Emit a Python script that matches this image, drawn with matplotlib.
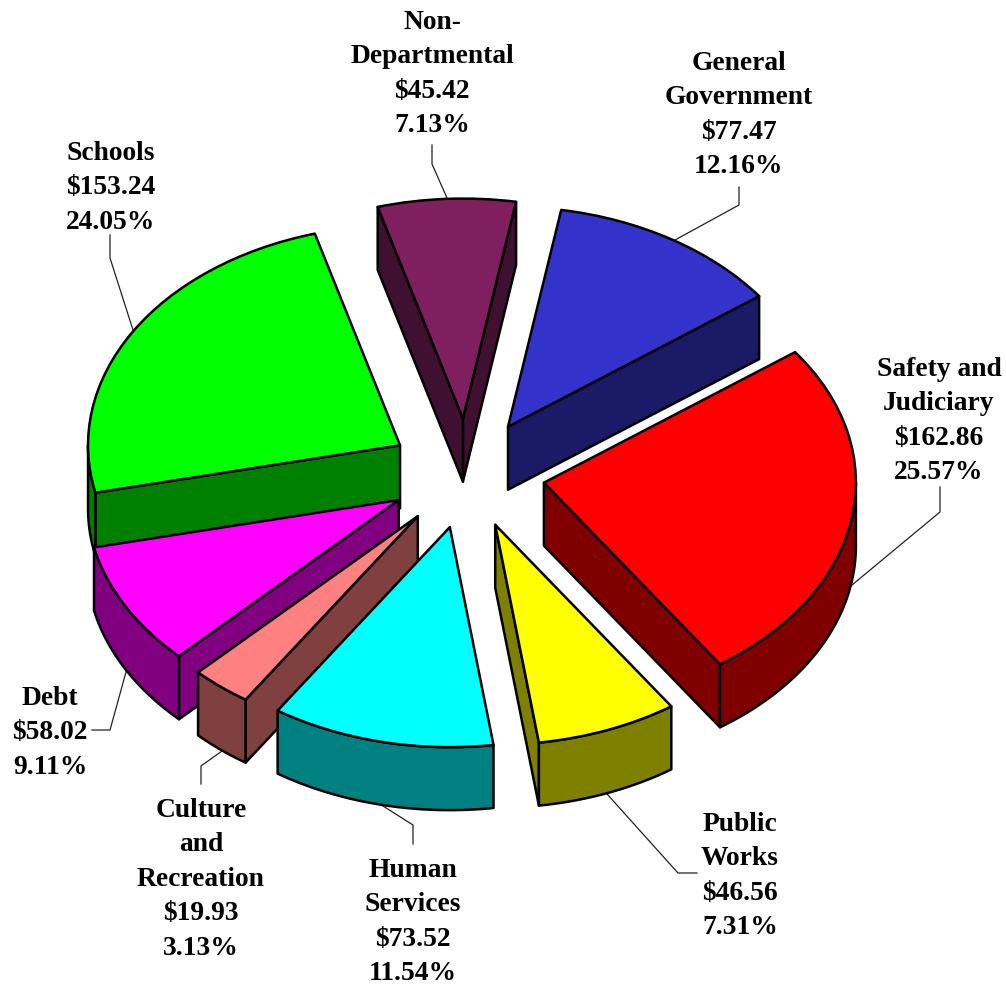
import numpy as np
import matplotlib
matplotlib.use("Agg")
import matplotlib.pyplot as plt
from matplotlib.patches import Wedge
from matplotlib.transforms import Affine2D

# slices in pie order, counter clockwise from the start angle
names = ['General\nGovernment', 'Non-\nDepartmental', 'Schools', 'Debt',
         'Culture\nand\nRecreation', 'Human\nServices', 'Public\nWorks',
         'Safety and\nJudiciary']
values = [77.47, 45.42, 153.24, 58.02, 19.93, 73.52, 46.56, 162.86]
percents = ['12.16%', '7.13%', '24.05%', '9.11%', '3.13%', '11.54%', '7.31%', '25.57%']
top_colors = ['#3333CC', '#7F1F5F', '#00FF00', '#FF00FF', '#FF8080', '#00FFFF', '#FFFF00', '#FF0000']
side_colors = ['#1A1A66', '#401030', '#008000', '#800080', '#804040', '#008080', '#808000', '#800000']

# label layout: centre x, first baseline y, pitch
label_x = [739, 432, 111, 50, 201, 413, 740, 939]
label_y = [70, 29, 160, 705, 817, 877, 831, 376]
pitch = 34.4

# leader lines in pixels
leaders = [
    [(739, 187), (739, 205), (675, 240)],
    [(432, 145), (432, 164), (447, 198)],
    [(110, 235), (110, 258), (133, 330)],
    [(92, 730), (110, 730), (126, 672)],
    [(201, 784), (201, 766), (222, 751)],
    [(413, 844), (413, 825), (383, 806)],
    [(697, 873), (678, 873), (607, 794)],
    [(940, 487), (940, 512), (852, 585)],
]

# pie geometry
start = 36.4
cx, cy = 467, 473.5
rx, ry = 312, 220
depth = 63
explode = 0.25
lw = 1.8

fig = plt.figure(figsize=(10.06, 9.86), dpi=100)
ax = fig.add_axes([0, 0, 1, 1])
ax.set_xlim(0, 1006)
ax.set_ylim(986, 0)
ax.axis('off')

shares = np.array(values) / sum(values) * 360
t0 = start + np.concatenate(([0], np.cumsum(shares)[:-1]))
t1 = t0 + shares
mid = np.radians((t0 + t1) / 2)
ox = cx + explode * rx * np.cos(mid)
oy = cy - explode * ry * np.sin(mid)


def pt(x0, y0, t):
    t = np.radians(t)
    return x0 + rx * np.cos(t), y0 - ry * np.sin(t)


def wall(xs, ys, color, z):
    # extrude a top outline downwards
    xs, ys = np.asarray(xs), np.asarray(ys)
    ax.fill(np.r_[xs, xs[::-1]], np.r_[ys, ys[::-1] + depth],
            fc=color, ec='k', lw=lw, joinstyle='round', zorder=z)


# back slices first
for n, i in enumerate(np.argsort(-np.sin(mid))):
    z = 2 + n
    x0, y0 = ox[i], oy[i]
    a, b = t0[i], t1[i]
    # radial walls facing the viewer
    for t, show in ((a, np.cos(np.radians(a)) > 0), (b, np.cos(np.radians(b)) < 0)):
        if show:
            px, py = pt(x0, y0, t)
            wall([x0, px], [y0, py], side_colors[i], z)
    # rim wall, only the lower half of the ellipse shows
    for k in (0, 1):
        lo, hi = max(a, 180 + 360 * k), min(b, 360 + 360 * k)
        if hi > lo:
            px, py = pt(x0, y0, np.linspace(lo, hi, 60))
            wall(px, py, side_colors[i], z)
    tr = Affine2D().scale(rx, -ry).translate(x0, y0) + ax.transData
    ax.add_patch(Wedge((0, 0), 1, a, b, fc=top_colors[i], ec='k', lw=lw,
                       joinstyle='round', transform=tr, zorder=z))

for i, name in enumerate(names):
    lines = name.split('\n') + ['$%.2f' % values[i], percents[i]]
    for j, s in enumerate(lines):
        ax.text(label_x[i], label_y[i] + j * pitch, s.replace('$', r'\$'), ha='center', va='baseline',
                family='Liberation Serif', weight='bold', size=19.8, color='k', zorder=20)
    lx, ly = zip(*leaders[i])
    ax.plot(lx, ly, color='#222222', lw=0.9, zorder=1)

fig.savefig('out.png', dpi=100, facecolor='white')
